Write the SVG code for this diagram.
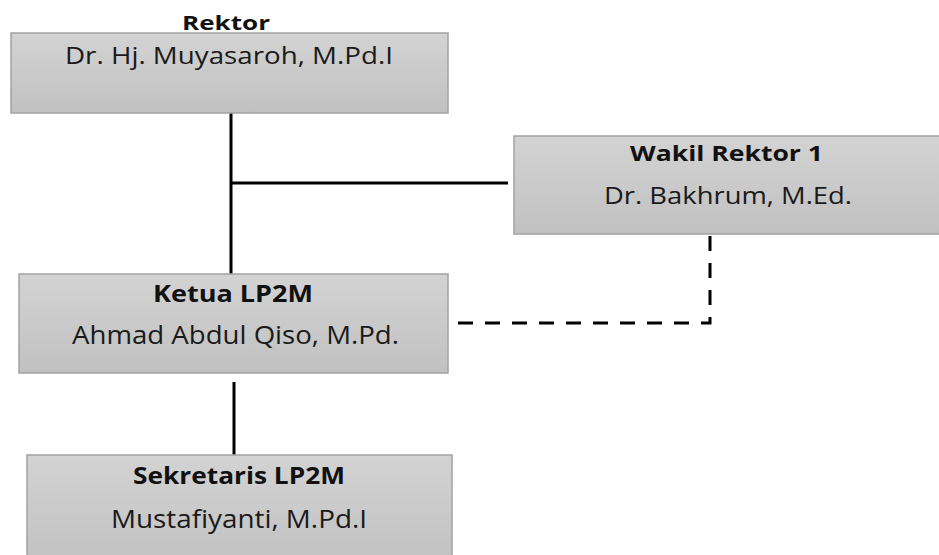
<svg xmlns="http://www.w3.org/2000/svg" width="939" height="555" viewBox="0 0 939 555">
<defs>
<linearGradient id="g" x1="0" y1="0" x2="0" y2="1">
<stop offset="0" stop-color="#d3d3d3"/>
<stop offset="1" stop-color="#c1c1c1"/>
</linearGradient>
<style>
.box{fill:url(#g);stroke:#a3a3a3;stroke-width:1.5}
.t{font-family:"Open Sans","Liberation Sans",sans-serif;fill:#1a1a1a;text-anchor:middle}
.b{font-weight:bold;fill:#111}
.s{stroke:#000;stroke-width:3;fill:none}
.d{stroke:#000;stroke-width:3;fill:none;stroke-dasharray:15 12}
</style>
</defs>
<g id="connectors">
<line class="s" x1="231" y1="113" x2="231" y2="274"/>
<line class="s" x1="231" y1="183" x2="508" y2="183"/>
<line class="s" x1="234" y1="382" x2="234" y2="455"/>
<polyline class="d" points="710,236 710,323 449,323"/>
</g>
<g id="rektor">
<text class="t b" x="226" y="30" font-size="20" textLength="88" lengthAdjust="spacingAndGlyphs">Rektor</text>
<rect class="box" x="11" y="33" width="437" height="80"/>
<text class="t" x="229" y="64" font-size="23" textLength="328" lengthAdjust="spacingAndGlyphs">Dr. Hj. Muyasaroh, M.Pd.I</text>
</g>
<g id="wakil">
<rect class="box" x="514" y="136" width="426" height="98"/>
<text class="t b" x="726.5" y="161" font-size="22" textLength="193" lengthAdjust="spacingAndGlyphs">Wakil Rektor 1</text>
<text class="t" x="728" y="204" font-size="24" textLength="248" lengthAdjust="spacingAndGlyphs">Dr. Bakhrum, M.Ed.</text>
</g>
<g id="ketua">
<rect class="box" x="19" y="274" width="429" height="99"/>
<text class="t b" x="233" y="302" font-size="24" textLength="160" lengthAdjust="spacingAndGlyphs">Ketua LP2M</text>
<text class="t" x="235.5" y="344" font-size="26" textLength="327" lengthAdjust="spacingAndGlyphs">Ahmad Abdul Qiso, M.Pd.</text>
</g>
<g id="sekretaris">
<rect class="box" x="27" y="455" width="425" height="110"/>
<text class="t b" x="239" y="484" font-size="24" textLength="212" lengthAdjust="spacingAndGlyphs">Sekretaris LP2M</text>
<text class="t" x="239" y="528" font-size="26" textLength="256" lengthAdjust="spacingAndGlyphs">Mustafiyanti, M.Pd.I</text>
</g>
</svg>
